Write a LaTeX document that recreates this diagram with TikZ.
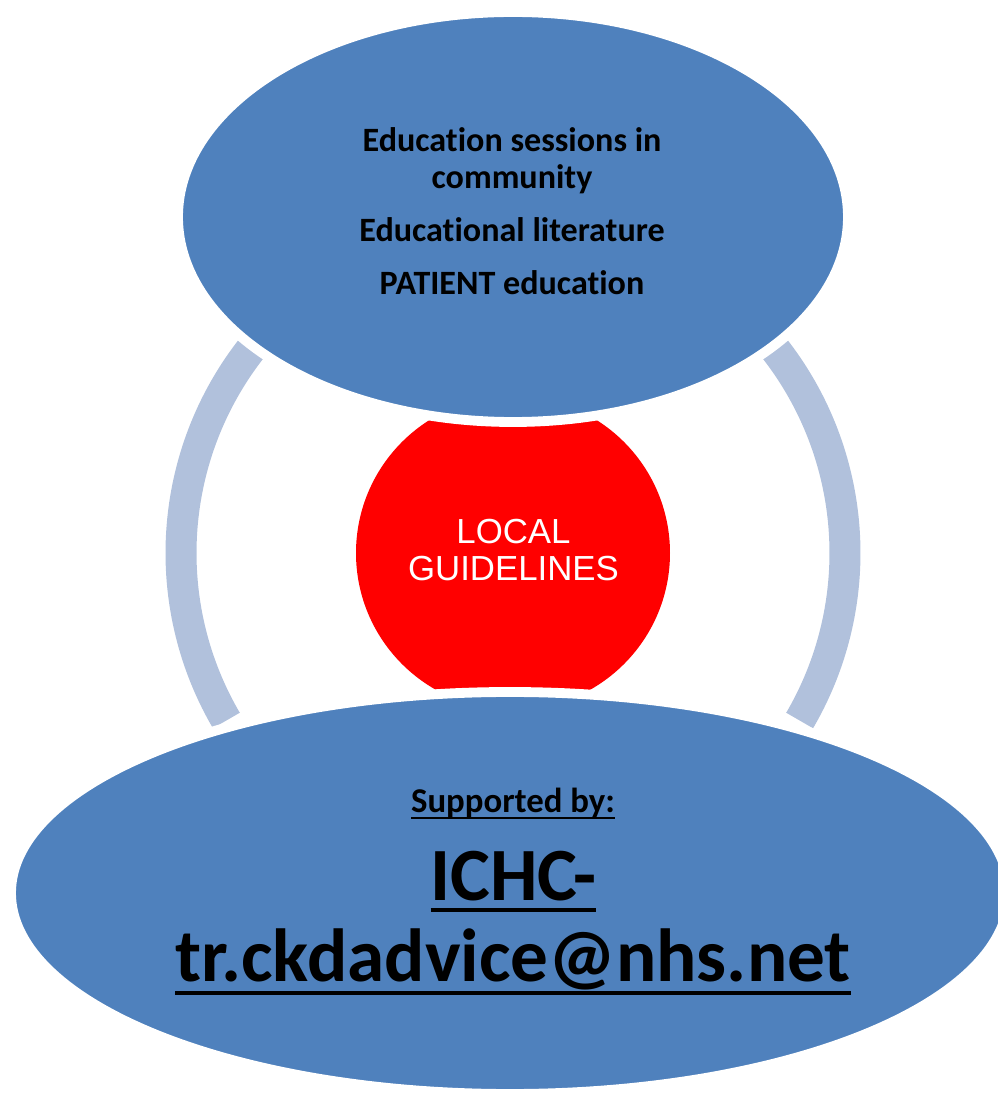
\documentclass[tikz,border=0pt]{standalone}
\usepackage{fontspec}
\setmainfont{Carlito}[Ligatures=CommonOff]
\newfontfamily\arialfont{Liberation Sans}
\usetikzlibrary{shapes.geometric}
\definecolor{ovalblue}{RGB}{79,129,189}
\definecolor{ringblue}{RGB}{177,193,220}
\definecolor{guidered}{RGB}{255,0,0}
% underline with given depth and thickness
\newcommand{\ulbox}[3]{\setbox0\hbox{#1}\rlap{\rule[-#2]{\wd0}{#3}}\box0}

\begin{document}
\begin{tikzpicture}[
  oval/.style={ellipse,fill=ovalblue,draw=white,line width=2.8pt,inner sep=0pt},
  ring/.style={draw=ringblue,line width=0.31cm},
  basetext/.style={anchor=base,inner sep=0pt,font=\bfseries}
]
\useasboundingbox (0,0) rectangle (9.98,10.93);
\clip (0,0) rectangle (9.98,10.93);

% the ring behind
\coordinate (hub) at (5.13,5.40);
\draw[ring] (hub) ++(141.3:3.32) arc[start angle=141.3,end angle=210.3,radius=3.32];
\draw[ring] (hub) ++(38.7:3.32) arc[start angle=38.7,end angle=-30.3,radius=3.32];

% centre circle
\node[circle,fill=guidered,minimum size=3.14cm,inner sep=0pt] (local) at (hub) {};
\node[font=\arialfont\fontsize{9.9}{10.5}\selectfont,text=white,align=center,inner sep=0pt]
  (localtext) at (5.135,5.43) {LOCAL\\GUIDELINES};

% top oval
\node[oval,minimum width=6.70cm,minimum height=4.10cm] (edu) at (5.13,8.76) {};
\node[font=\bfseries\fontsize{9.7}{10.5}\selectfont,align=center,inner sep=0pt]
  (edutext) at (5.12,8.82)
  {Education sessions in\\community\\[4.6pt]Educational literature\\[4.6pt]PATIENT education};

% bottom oval
\node[oval,minimum width=9.98cm,minimum height=4.02cm] (support) at (5.10,2.00) {};
\node[basetext,font=\bfseries\fontsize{9.9}{11}\selectfont] (sup) at (5.13,2.80)
  {\ulbox{Supported by:}{1.7pt}{0.5pt}};
\node[basetext,font=\bfseries\fontsize{21.4}{23}\selectfont] (ichc) at (5.135,1.93)
  {\ulbox{ICHC-}{3.4pt}{1.1pt}};
\node[basetext,font=\bfseries\fontsize{21.4}{23}\selectfont] (mail) at (5.13,1.11)
  {\ulbox{tr.ckdadvice@nhs.net}{3.7pt}{1.1pt}};
\end{tikzpicture}
\end{document}
